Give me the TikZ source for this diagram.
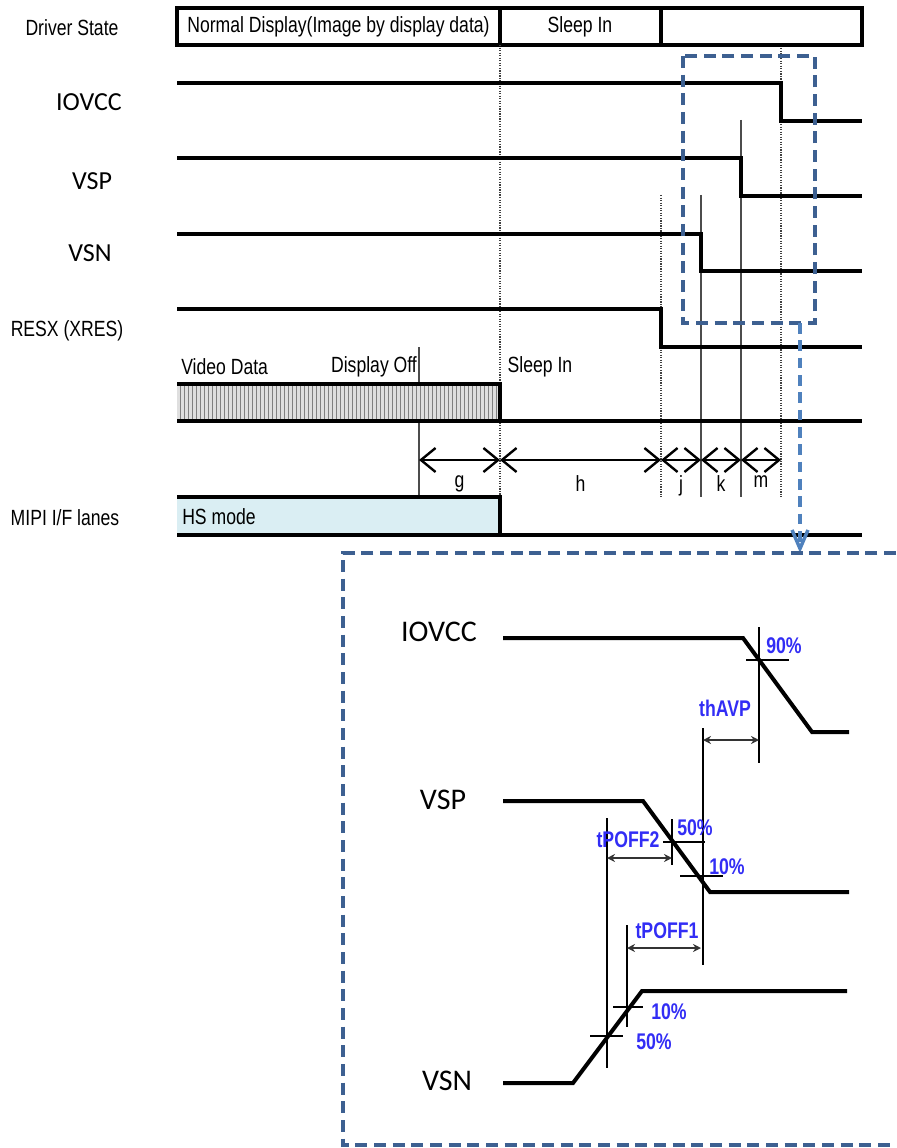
\documentclass[tikz,border=0pt]{standalone}
\usepackage{fontspec}
\setmainfont[FakeStretch=0.8]{Liberation Sans}
\newfontfamily\calfont{Carlito}
\newfontfamily\pctfont[FakeStretch=0.78]{Liberation Sans}
\usetikzlibrary{positioning,arrows.meta,patterns}
\definecolor{zoomblue}{RGB}{61,96,145}
\definecolor{linkblue}{RGB}{79,129,189}
\definecolor{pctblue}{RGB}{50,45,245}
\definecolor{hsfill}{RGB}{218,238,243}
\tikzset{sig/.style={draw, line width=2.5pt}}
\tikzset{vthin/.style={draw=black!75, line width=0.9pt, densely dotted}}
\tikzset{vthick/.style={draw=black!70, line width=1.7pt}}
\tikzset{txt/.style={inner sep=0pt, font=\fontsize{16.5}{18}\selectfont}}
\tikzset{siglab/.style={inner sep=0pt, font=\calfont\fontsize{19.5}{21}\selectfont}}
\tikzset{biglab/.style={inner sep=0pt, font=\calfont\fontsize{22.5}{24}\selectfont}}
\tikzset{pct/.style={inner sep=0pt, text=pctblue, font=\pctfont\bfseries\fontsize{17}{18}\selectfont}}
\tikzset{darr/.style={draw, line width=1.8pt, {Straight Barb[length=11pt,width=18pt]}-{Straight Barb[length=11pt,width=18pt]}}}
\tikzset{sarr/.style={draw=black!80, line width=1.6pt, {Stealth[length=6pt,width=6pt]}-{Stealth[length=6pt,width=6pt]}}}
\tikzset{wave/.style={draw, line width=3pt}}
\tikzset{tick/.style={draw, line width=1pt}}
\begin{document}
\begin{tikzpicture}[x=0.75pt, y=-0.75pt]
	\useasboundingbox (0,0) rectangle (896,1148);
	% time instants
	\coordinate (tg) at (419,460);
	\coordinate (ts) at (500,460);
	\coordinate (tj) at (661,460);
	\coordinate (tk) at (701,460);
	\coordinate (tm) at (741,460);
	\coordinate (te) at (781,460);

	% signal names
	\node[txt] (lstate) at (72,28) {Driver State};
	\node[siglab] (liovcc) at (89,102) {IOVCC};
	\node[siglab] (lvsp) at (92,181) {VSP};
	\node[siglab] (lvsn) at (90,253) {VSN};
	\node[txt] (lresx) at (67,331) {RESX (XRES)};
	\node[txt] (lmipi) at (65,518) {MIPI I/F lanes};

	% driver state
	\draw[line width=2.4pt] (177,8) rectangle (862,45);
	\draw[line width=2.4pt] (500,8) -- (500,45) (661,8) -- (661,45);
	\node[txt] (snormal) at (338.5,27) {Normal Display(Image by display data)};
	\node[txt] (ssleep) at (580,27) {Sleep In};

	% markers
	\draw[vthin] (500,45) -- (500,497);
	\draw[vthin] (661,195) -- (661,497);
	\draw[vthin] (781,48) -- (781,497);
	\draw[vthick] (419,347) -- (419,497);
	\draw[vthick] (701,195) -- (701,497);
	\draw[vthick] (741,120) -- (741,497);

	% supplies
	\draw[sig] (177,83) -- (781,83) -- (781,121) -- (862,121);
	\draw[sig] (177,158) -- (741,158) -- (741,196) -- (862,196);
	\draw[sig] (177,234) -- (701,234) -- (701,271) -- (862,271);
	\draw[sig] (177,309) -- (661,309) -- (661,347) -- (862,347);

	% video data
	\fill[gray!25] (177,384) rectangle (500,421);
	\fill[pattern=vertical lines, pattern color=black!50] (177,384) rectangle (500,421);
	\draw[sig] (177,384) -- (500,384) -- (500,421);
	\draw[sig] (177,421) -- (862,421);
	\node[txt, anchor=west] (vdata) at (181,367) {Video Data};
	\node[txt] (voff) at (374,367) {Display Off};
	\node[txt] (vsleep) at (540,367) {Sleep In};

	% MIPI
	\fill[hsfill] (177,497) rectangle (500,535);
	\draw[sig] (177,497) -- (500,497) -- (500,535);
	\draw[sig] (177,535) -- (862,535);
	\node[txt, anchor=west] (hsmode) at (182,517) {HS mode};

	% intervals
	\draw[darr] (tg) -- node[txt, below=11pt] {g} (ts);
	\draw[darr] (ts) -- node[txt, below=11pt] {h} (tj);
	\draw[darr] (tj) -- node[txt, below=11pt] {j} (tk);
	\draw[darr] (tk) -- node[txt, below=11pt] {k} (tm);
	\draw[darr] (tm) -- node[txt, below=11pt] {m} (te);

	% zoom frame
	\draw[zoomblue, line width=3pt, dash pattern=on 9pt off 5pt] (683,56) rectangle (815,323);
	\coordinate (zfrom) at (800,323);
	\coordinate (zto) at (800,553);
	\draw[linkblue, line width=2.6pt, dash pattern=on 8pt off 5pt, -{Straight Barb[length=14pt,width=12pt]}] (zfrom) -- (zto);
	\draw[zoomblue, line width=3pt, dash pattern=on 9pt off 5pt] (896,553) -- (343,553) -- (343,1145) -- (896,1145);

	% detail: IOVCC
	\node[biglab] (diovcc) at (439,632) {IOVCC};
	\draw[wave] (503,638) -- (743,638) -- (812,732) -- (849,732);
	\draw[tick] (746,660) -- (789,660);
	\draw[tick] (759,627) -- (759,763);
	\node[pct] (p90) at (784,646) {90\%};
	\draw[tick] (703,728) -- (703,965);
	\coordinate (avpa) at (703,740);
	\coordinate (avpb) at (759,740);
	\draw[sarr] (avpa) -- (avpb);
	\node[pct] (thavp) at (725,708) {thAVP};

	% detail: VSP
	\node[biglab] (dvsp) at (443,800) {VSP};
	\draw[wave] (503,801) -- (643,801) -- (710,892) -- (849,892);
	\draw[tick] (663,842) -- (705,842);
	\draw[tick] (672,819) -- (672,865);
	\draw[tick] (680,876) -- (723,876);
	\node[pct] (p50a) at (695,828) {50\%};
	\node[pct] (p10a) at (727,867) {10\%};
	\draw[tick] (607,818) -- (607,1068);
	\coordinate (pf2a) at (607,858);
	\coordinate (pf2b) at (672,858);
	\draw[sarr] (pf2a) -- (pf2b);
	\node[pct] (tpoff2) at (628,840) {tPOFF2};

	% detail: VSN
	\node[biglab] (dvsn) at (447,1081) {VSN};
	\draw[wave] (503,1083) -- (573,1083) -- (642,991) -- (847,991);
	\draw[tick] (627,925) -- (627,1027);
	\coordinate (pf1a) at (627,948);
	\coordinate (pf1b) at (701,948);
	\draw[sarr] (pf1a) -- (pf1b);
	\node[pct] (tpoff1) at (667,931) {tPOFF1};
	\draw[tick] (613,1007) -- (643,1007);
	\draw[tick] (590,1036) -- (623,1036);
	\node[pct] (p10b) at (669,1012) {10\%};
	\node[pct] (p50b) at (654,1042) {50\%};
\end{tikzpicture}
\end{document}
